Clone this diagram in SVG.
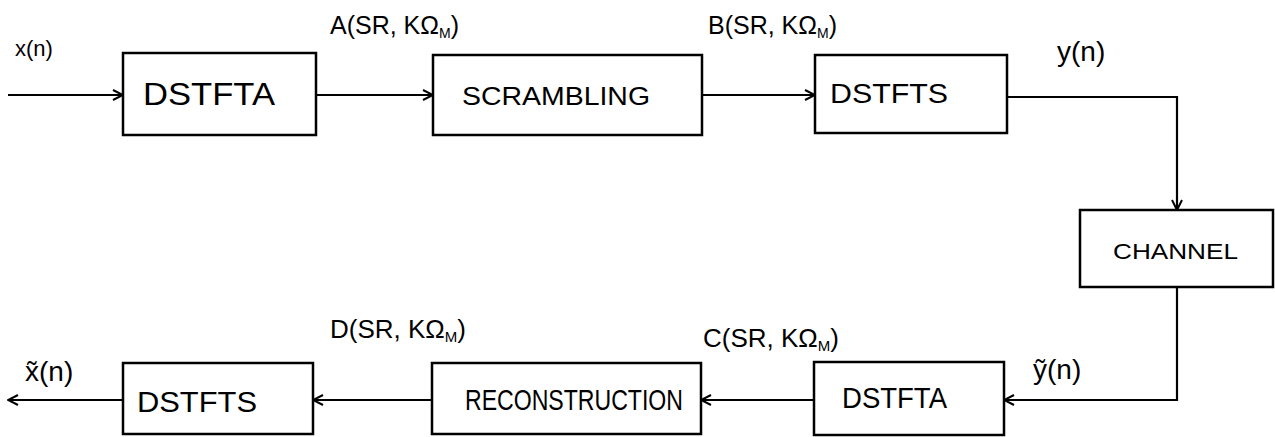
<svg xmlns="http://www.w3.org/2000/svg" width="1275" height="437" viewBox="0 0 1275 437">
<style>
.box{fill:#fff;stroke:#000;stroke-width:2.5}
.t{font-family:"Liberation Sans",Arial,sans-serif;fill:#000}
.c{fill:none;stroke:#000;stroke-width:2.2}
</style>
<defs>
<marker id="ah" viewBox="0 0 12 12" refX="11" refY="6" markerWidth="12" markerHeight="12" markerUnits="userSpaceOnUse" orient="auto">
<path d="M1,1 L11,6 L1,11" fill="none" stroke="#000" stroke-width="2"/>
</marker>
</defs>
<rect width="1275" height="437" fill="#fff"/>
<g id="connectors">
<path class="c" d="M8,95 H123" marker-end="url(#ah)"/>
<path class="c" d="M316,95 H433" marker-end="url(#ah)"/>
<path class="c" d="M702,95 H815" marker-end="url(#ah)"/>
<path class="c" d="M1007,97 H1177 V210" marker-end="url(#ah)"/>
<path class="c" d="M1177,287 V400 H1004" marker-end="url(#ah)"/>
<path class="c" d="M814,400 H701" marker-end="url(#ah)"/>
<path class="c" d="M432,400 H313" marker-end="url(#ah)"/>
<path class="c" d="M123,400 H8" marker-end="url(#ah)"/>
</g>
<g id="dstfta1">
<rect class="box" x="123" y="53" width="193" height="82"/>
<text class="t" x="143" y="105" font-size="31" textLength="132" lengthAdjust="spacingAndGlyphs">DSTFTA</text>
</g>
<g id="scrambling">
<rect class="box" x="433" y="55" width="269" height="80"/>
<text class="t" x="462" y="105" font-size="25" textLength="188" lengthAdjust="spacingAndGlyphs">SCRAMBLING</text>
</g>
<g id="dstfts1">
<rect class="box" x="815" y="55" width="192" height="78"/>
<text class="t" x="830" y="103" font-size="27" textLength="118" lengthAdjust="spacingAndGlyphs">DSTFTS</text>
</g>
<g id="channel">
<rect class="box" x="1080" y="210" width="193" height="77"/>
<text class="t" x="1113" y="259" font-size="22" textLength="125" lengthAdjust="spacingAndGlyphs">CHANNEL</text>
</g>
<g id="dstfta2">
<rect class="box" x="814" y="362" width="190" height="73"/>
<text class="t" x="842" y="408" font-size="29" textLength="105" lengthAdjust="spacingAndGlyphs">DSTFTA</text>
</g>
<g id="reconstruction">
<rect class="box" x="432" y="363" width="269" height="71"/>
<text class="t" x="465" y="410" font-size="29" textLength="218" lengthAdjust="spacingAndGlyphs">RECONSTRUCTION</text>
</g>
<g id="dstfts2">
<rect class="box" x="123" y="363" width="190" height="71"/>
<text class="t" x="137" y="412" font-size="29" textLength="120" lengthAdjust="spacingAndGlyphs">DSTFTS</text>
</g>
<g id="labels">
<text class="t" x="15" y="56" font-size="22">x(n)</text>
<text class="t" x="330" y="34" font-size="25">A(SR, KΩ<tspan font-size="14" dy="4">M</tspan><tspan dy="-4">)</tspan></text>
<text class="t" x="708" y="34" font-size="25">B(SR, KΩ<tspan font-size="14" dy="4">M</tspan><tspan dy="-4">)</tspan></text>
<text class="t" x="1057" y="61" font-size="28">y(n)</text>
<text class="t" x="1033" y="379" font-size="28">ỹ(n)</text>
<text class="t" x="703" y="347" font-size="26">C(SR, KΩ<tspan font-size="15" dy="4">M</tspan><tspan dy="-4">)</tspan></text>
<text class="t" x="330" y="338" font-size="26">D(SR, KΩ<tspan font-size="15" dy="4">M</tspan><tspan dy="-4">)</tspan></text>
<text class="t" x="25" y="381" font-size="28">x̃(n)</text>
</g>
</svg>
